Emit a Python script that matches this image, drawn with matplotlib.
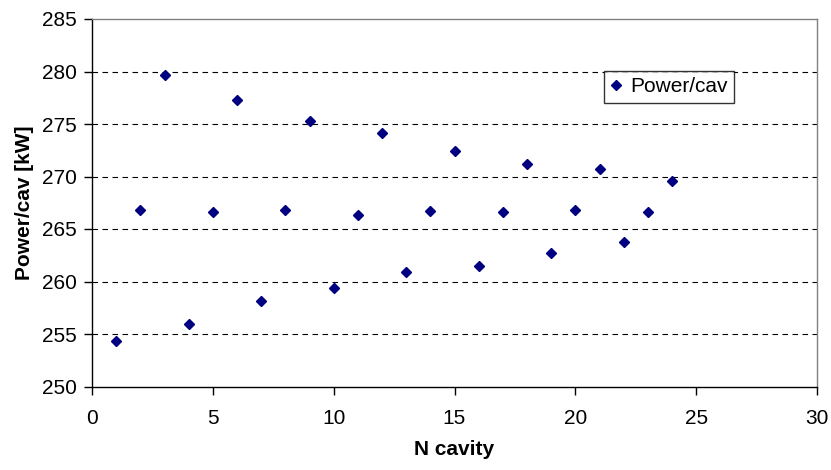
import matplotlib
matplotlib.use("Agg")
import matplotlib.pyplot as plt

plt.rcParams['font.family'] = ['Liberation Sans', 'DejaVu Sans']

n_cavity = list(range(1, 25))
power_per_cav = [254.3, 266.8, 279.7, 256.0, 266.6, 277.3, 258.1, 266.8,
                 275.3, 259.4, 266.3, 274.1, 260.9, 266.7, 272.4, 261.5,
                 266.6, 271.2, 262.7, 266.8, 270.7, 263.8, 266.6, 269.6]
series_label = "Power/cav"
x_ticks = [0, 5, 10, 15, 20, 25, 30]
y_ticks = [250, 255, 260, 265, 270, 275, 280, 285]

fig = plt.figure(figsize=(8.31, 4.70), dpi=100)
ax = fig.add_axes([92/831, 1-386.5/470, (817-92)/831, (386.5-19)/470])

ax.plot(n_cavity, power_per_cav, linestyle='none', marker='D', markersize=5.4,
        color='#000080', label=series_label, zorder=3)

ax.set_xlim(0, 30)
ax.set_ylim(250, 285)
ax.set_xticks(x_ticks)
ax.set_yticks(y_ticks)
ax.tick_params(axis='both', labelsize=15, direction='out', length=6, width=1, colors='black')
ax.tick_params(axis='x', pad=10)
ax.tick_params(axis='y', pad=5)

for y in y_ticks[1:-1]:
    ax.axhline(y, color='black', linestyle=(0, (5, 4)), linewidth=0.8, zorder=1)

ax.spines['left'].set_color('black')
ax.spines['bottom'].set_color('black')
ax.spines['top'].set_color('#808080')
ax.spines['right'].set_color('#808080')
for s in ax.spines.values():
    s.set_linewidth(1)

ax.set_xlabel('N cavity', fontsize=15, fontweight='bold', labelpad=9)
ax.set_ylabel('Power/cav [kW]', fontsize=15, fontweight='bold', labelpad=6)

leg = ax.legend(loc='upper left', bbox_to_anchor=(0.706, 0.858), borderaxespad=0,
                fontsize=15, frameon=True, fancybox=False, handlelength=0.55,
                handletextpad=0.4, borderpad=0.3, markerscale=0.9)
leg.get_frame().set_edgecolor('black')
leg.get_frame().set_linewidth(1)

fig.savefig('out.png', dpi=100)
